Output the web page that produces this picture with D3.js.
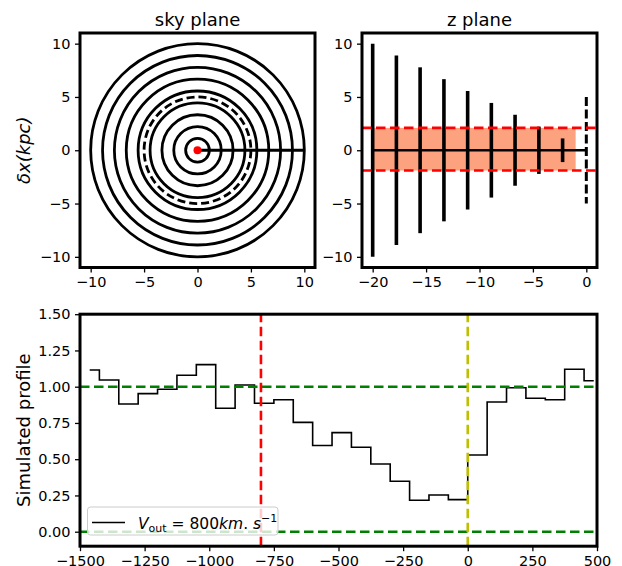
<!DOCTYPE html>
<html>
<head>
<meta charset="utf-8">
<script src="https://cdn.jsdelivr.net/npm/d3@7/dist/d3.min.js"></script>
<style>
    body {margin: 0; background: #fff;}
    svg {font-family: "DejaVu Sans", sans-serif;}
    .axis text {font-family: "DejaVu Sans", sans-serif; font-size: 14.5px; fill: #000;}
    .axis path.domain {display: none;}
    .axis line {stroke: #000; stroke-width: 1.3;}
    .frame {fill: none; stroke: #000; stroke-width: 3;}
</style>
</head>
<body>
<svg id="fig" width="622" height="566"></svg>
<script>

// sky plane: projected rings (kpc)
var skyRadii = [1.11, 2.22, 3.33, 4.44, 5.56, 6.67, 7.78, 8.89, 10];
var skyDashedRadius = 5;
var skyTicks = [-10, -5, 0, 5, 10];

// z plane: slices along the line of sight
var zSlices = [-20, -17.78, -15.56, -13.33, -11.11, -8.89, -6.67, -4.44, -2.22];
var zHalfLength = [10, 8.89, 7.78, 6.67, 5.56, 4.44, 3.33, 2.22, 1.11];
var zDashedHalf = 5;
var zBand = {x0: -20, x1: -1, y0: -1.9, y1: 2.1};
var zTicksX = [-20, -15, -10, -5, 0];
var zTicksY = [-10, -5, 0, 5, 10];

// simulated profile
var velocity = [-1462.5, -1387.5, -1312.5, -1237.5, -1162.5, -1087.5, -1012.5, -937.5, -862.5,
    -787.5, -712.5, -637.5, -562.5, -487.5, -412.5, -337.5, -262.5, -187.5, -112.5, -37.5,
    37.5, 112.5, 187.5, 262.5, 337.5, 412.5, 487.5];
var profile = [1.115, 1.046, 0.881, 0.952, 0.982, 1.079, 1.152, 0.851, 1.012,
    0.886, 0.910, 0.754, 0.594, 0.683, 0.582, 0.467, 0.348, 0.217, 0.253, 0.221,
    0.529, 0.894, 0.993, 0.920, 0.910, 1.120, 1.041];
var vOut = -800;
var vSys = 0;
var profileTicksX = [-1500, -1250, -1000, -750, -500, -250, 0, 250, 500];
var profileTicksY = [0, 0.25, 0.5, 0.75, 1, 1.25, 1.5];

var svg = d3.select("#fig");

function addAxes(g, x, y, tx, ty, fmtY) {
    var h = y.range()[0];
    var xAxis = d3.axisBottom(x).tickValues(tx).tickSizeOuter(0).tickSize(5).tickPadding(4.5)
        .tickFormat(d3.format("d"));
    var yAxis = d3.axisLeft(y).tickValues(ty).tickSizeOuter(0).tickSize(5).tickPadding(4.5)
        .tickFormat(fmtY || d3.format("d"));
    g.append("g").attr("class", "axis").attr("transform", "translate(0," + h + ")").call(xAxis);
    g.append("g").attr("class", "axis").attr("transform", "translate(" + x.range()[0] + ",0)").call(yAxis);
}

function addFrame(g, x, y) {
    g.append("rect")
        .attr("class", "frame")
        .attr("x", x.range()[0])
        .attr("y", y.range()[1])
        .attr("width", x.range()[1] - x.range()[0])
        .attr("height", y.range()[0] - y.range()[1]);
}

// ---------- sky plane ----------
var xSky = d3.scaleLinear().domain([-11, 11]).range([80, 315]);
var ySky = d3.scaleLinear().domain([-11, 11]).range([267.5, 33]);
var gSky = svg.append("g");

gSky.selectAll("ellipse.ring")
    .data(skyRadii)
    .enter()
    .append("ellipse")
    .attr("class", "ring")
    .attr("cx", xSky(0))
    .attr("cy", ySky(0))
    .attr("rx", function(d) {return xSky(d) - xSky(0)})
    .attr("ry", function(d) {return ySky(0) - ySky(d)})
    .attr("fill", "none")
    .attr("stroke", "#000")
    .attr("stroke-width", 2.8);

gSky.append("ellipse")
    .attr("cx", xSky(0))
    .attr("cy", ySky(0))
    .attr("rx", xSky(skyDashedRadius) - xSky(0))
    .attr("ry", ySky(0) - ySky(skyDashedRadius))
    .attr("fill", "none")
    .attr("stroke", "#000")
    .attr("stroke-width", 2.8)
    .attr("stroke-dasharray", "8,4");

gSky.append("line")
    .attr("x1", xSky(0)).attr("x2", xSky(d3.max(skyRadii)))
    .attr("y1", ySky(0)).attr("y2", ySky(0))
    .attr("stroke", "#000")
    .attr("stroke-width", 2.8);

gSky.append("circle")
    .attr("cx", xSky(0)).attr("cy", ySky(0)).attr("r", 4)
    .attr("fill", "#ff0000");

addAxes(gSky, xSky, ySky, skyTicks, skyTicks);
addFrame(gSky, xSky, ySky);

gSky.append("text")
    .attr("x", (xSky.range()[0] + xSky.range()[1]) / 2)
    .attr("y", 26)
    .attr("text-anchor", "middle")
    .style("font-size", "18px")
    .text("sky plane");

gSky.append("text")
    .attr("transform", "translate(30," + ySky(0) + ") rotate(-90)")
    .attr("text-anchor", "middle")
    .style("font-size", "18px")
    .style("font-style", "italic")
    .text("δx(kpc)");

// ---------- z plane ----------
var xZ = d3.scaleLinear().domain([-21, 1]).range([362, 597]);
var yZ = d3.scaleLinear().domain([-11, 11]).range([267.5, 33]);
var gZ = svg.append("g");

gZ.append("rect")
    .attr("x", xZ(zBand.x0))
    .attr("y", yZ(zBand.y1))
    .attr("width", xZ(zBand.x1) - xZ(zBand.x0))
    .attr("height", yZ(zBand.y0) - yZ(zBand.y1))
    .attr("fill", "#fda27f");

gZ.append("line")
    .attr("x1", xZ(zSlices[0])).attr("x2", xZ(0))
    .attr("y1", yZ(0)).attr("y2", yZ(0))
    .attr("stroke", "#000")
    .attr("stroke-width", 2.6);

gZ.selectAll("line.slice")
    .data(zSlices)
    .enter()
    .append("line")
    .attr("class", "slice")
    .attr("x1", function(d) {return xZ(d)})
    .attr("x2", function(d) {return xZ(d)})
    .attr("y1", function(d, i) {return yZ(zHalfLength[i])})
    .attr("y2", function(d, i) {return yZ(-zHalfLength[i])})
    .attr("stroke", "#000")
    .attr("stroke-width", 3.6);

gZ.append("line")
    .attr("x1", xZ(0)).attr("x2", xZ(0))
    .attr("y1", yZ(zDashedHalf)).attr("y2", yZ(-zDashedHalf))
    .attr("stroke", "#000")
    .attr("stroke-width", 3)
    .attr("stroke-dasharray", "9,3.5");

gZ.selectAll("line.bound")
    .data([zBand.y1, zBand.y0])
    .enter()
    .append("line")
    .attr("class", "bound")
    .attr("x1", xZ.range()[0]).attr("x2", xZ.range()[1])
    .attr("y1", function(d) {return yZ(d)})
    .attr("y2", function(d) {return yZ(d)})
    .attr("stroke", "#ff0000")
    .attr("stroke-width", 2.6)
    .attr("stroke-dasharray", "9.5,4.5");

addAxes(gZ, xZ, yZ, zTicksX, zTicksY);
addFrame(gZ, xZ, yZ);

gZ.append("text")
    .attr("x", (xZ.range()[0] + xZ.range()[1]) / 2)
    .attr("y", 26)
    .attr("text-anchor", "middle")
    .style("font-size", "18px")
    .text("z plane");

// ---------- simulated profile ----------
var xP = d3.scaleLinear().domain([-1500, 500]).range([80, 597]);
var yP = d3.scaleLinear().domain([-0.1, 1.5]).range([546.2, 314.2]);
var gP = svg.append("g");

gP.append("clipPath")
    .attr("id", "clipP")
    .append("rect")
    .attr("x", xP.range()[0]).attr("y", yP.range()[1])
    .attr("width", xP.range()[1] - xP.range()[0])
    .attr("height", yP.range()[0] - yP.range()[1]);

var step = d3.line()
    .x(function(d) {return xP(d[0])})
    .y(function(d) {return yP(d[1])})
    .curve(d3.curveStep);

gP.append("path")
    .datum(d3.zip(velocity, profile))
    .attr("clip-path", "url(#clipP)")
    .attr("d", step)
    .attr("fill", "none")
    .attr("stroke", "#000")
    .attr("stroke-width", 1.6);

gP.selectAll("line.ref")
    .data([1, 0])
    .enter()
    .append("line")
    .attr("class", "ref")
    .attr("x1", xP.range()[0]).attr("x2", xP.range()[1])
    .attr("y1", function(d) {return yP(d)})
    .attr("y2", function(d) {return yP(d)})
    .attr("stroke", "#008000")
    .attr("stroke-width", 2.6)
    .attr("stroke-dasharray", "9.5,4.5");

gP.append("line")
    .attr("x1", xP(vOut)).attr("x2", xP(vOut))
    .attr("y1", yP.range()[0]).attr("y2", yP.range()[1])
    .attr("stroke", "#ff0000")
    .attr("stroke-width", 2.6)
    .attr("stroke-dasharray", "9.5,4.5");

gP.append("line")
    .attr("x1", xP(vSys)).attr("x2", xP(vSys))
    .attr("y1", yP.range()[0]).attr("y2", yP.range()[1])
    .attr("stroke", "#bfbf00")
    .attr("stroke-width", 2.6)
    .attr("stroke-dasharray", "9.5,4.5");

addAxes(gP, xP, yP, profileTicksX, profileTicksY, d3.format(".2f"));
addFrame(gP, xP, yP);

gP.append("text")
    .attr("transform", "translate(29.5," + yP(0.7) + ") rotate(-90)")
    .attr("text-anchor", "middle")
    .style("font-size", "18px")
    .text("Simulated profile");

// legend
var leg = gP.append("g");
leg.append("rect")
    .attr("x", 87.5).attr("y", 507)
    .attr("width", 190.5).attr("height", 28)
    .attr("rx", 3)
    .attr("fill", "#fff").attr("fill-opacity", 0.8)
    .attr("stroke", "#cccccc");
leg.append("line")
    .attr("x1", 92).attr("x2", 125)
    .attr("y1", 522.5).attr("y2", 522.5)
    .attr("stroke", "#000")
    .attr("stroke-width", 1.6);

var lt = leg.append("text")
    .attr("x", 138).attr("y", 528.5)
    .style("font-size", "15.5px");
lt.append("tspan").style("font-style", "italic").text("V");
lt.append("tspan").attr("dy", 3).style("font-size", "11px").text("out");
lt.append("tspan").attr("dy", -3).text(" = 800");
lt.append("tspan").style("font-style", "italic").text("km");
lt.append("tspan").text(". ");
lt.append("tspan").style("font-style", "italic").text("s");
lt.append("tspan").attr("dy", -7).style("font-size", "11px").text("−1");

</script>
</body>
</html>
